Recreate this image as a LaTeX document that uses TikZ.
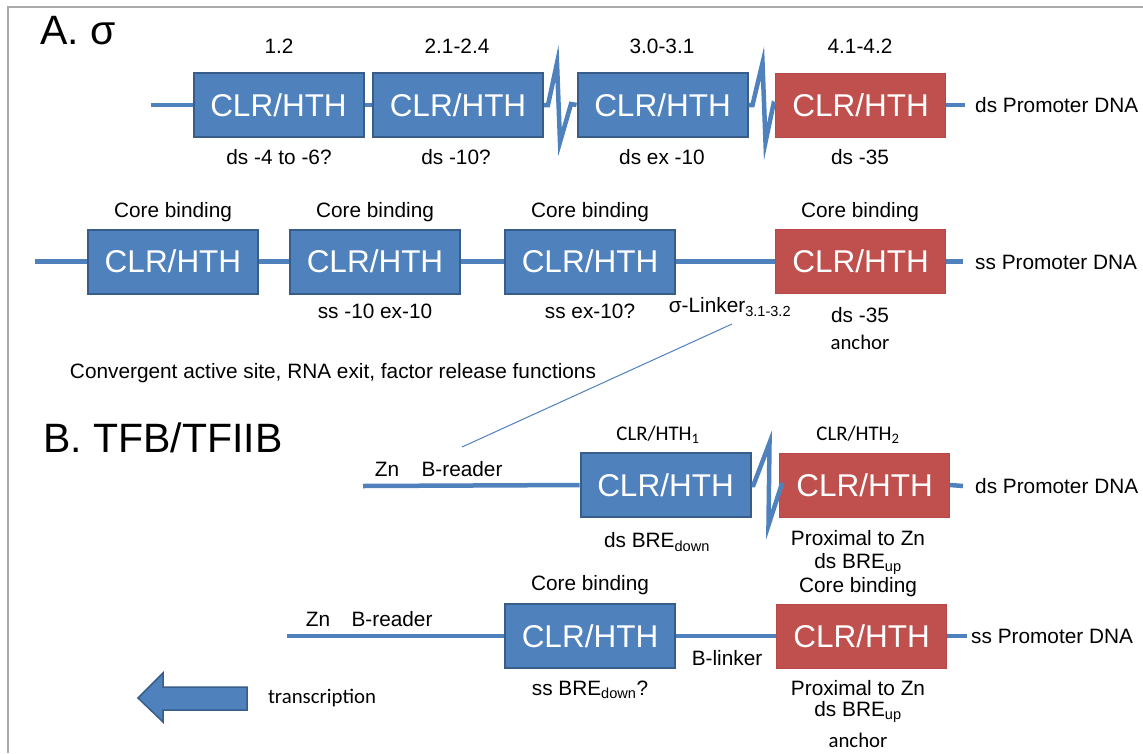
\documentclass[tikz,border=0pt]{standalone}
\usepackage{fontspec}
\setmainfont{Liberation Sans}
\newfontfamily\calfont{Carlito}
\definecolor{bfill}{HTML}{4F81BD}
\definecolor{bdraw}{HTML}{385D8A}
\definecolor{rfill}{HTML}{C0504D}
\definecolor{rdraw}{HTML}{B9474A}
\definecolor{frame}{HTML}{AAAAAA}
\tikzset{
  dom/.style={minimum width=170pt, minimum height=64pt, inner sep=0pt, text=white,
     font=\fontsize{31.5}{32}\selectfont},
  bdom/.style={dom, fill=bfill, draw=bdraw, line width=2pt},
  rdom/.style={dom, fill=rfill, draw=rdraw, line width=1pt},
  chain/.style={draw=bfill, line width=4.5pt},
  lbl/.style={inner sep=0pt, font=\fontsize{20.8}{23}\selectfont},
  clbl/.style={inner sep=0pt, font=\calfont\fontsize{20.8}{23}\selectfont},
  ttl/.style={inner sep=0pt, anchor=west, font=\fontsize{41}{44}\selectfont},
  thin/.style={draw=bfill, line width=1pt},
}
\begin{document}
\begin{tikzpicture}[x=1pt,y=-1pt]
\useasboundingbox (0,0) rectangle (1143,753);
\fill[white] (0,0) rectangle (1143,753);
\draw[frame, line width=2pt] (8,753) -- (8,7) -- (1143,7);

% Titles
\node[ttl] (tA) at (40,31) {A. σ};
\node[ttl] (tB) at (43,438) {B. TFB/TFIIB};

% ---------- Row 1: sigma, ds ----------
\node[bdom] (a1) at (278.5,105) {CLR/HTH};
\node[bdom] (a2) at (458,105) {CLR/HTH};
\node[bdom] (a3) at (662.5,105) {CLR/HTH};
\node[rdom] (a4) at (860.5,105) {CLR/HTH};
\coordinate (a0) at (151,105);
\coordinate (a5) at (965,105);
\draw[chain] (a0) -- (a1.west);
\draw[chain] (a1.east) -- (a2.west);
\draw[chain, line join=miter] (a2.east) -- ++(4,0) -- ++(9,-42) -- ++(3,79) -- ++(11,-38) -- (a3.west);
\draw[chain, line join=miter] (a3.east) -- ++(4,0) -- ++(10,-42) -- ++(3,79) -- ++(8,-38) -- (a4.west);
\draw[chain] (a4.east) -- (a5);
\node[lbl, anchor=west] (a6) at (975,105) {ds Promoter DNA};
\node[lbl] (a1t) at (279,46) {1.2};
\node[lbl] (a2t) at (457,46) {2.1-2.4};
\node[lbl] (a3t) at (662,46) {3.0-3.1};
\node[lbl] (a4t) at (860,46) {4.1-4.2};
\node[lbl] (a1b) at (279,157) {ds -4 to -6?};
\node[lbl] (a2b) at (456,157) {ds -10?};
\node[lbl] (a3b) at (662,157) {ds ex -10};
\node[lbl] (a4b) at (860,157) {ds -35};

% ---------- Row 2: sigma, ss ----------
\node[bdom] (s1) at (173,261.5) {CLR/HTH};
\node[bdom] (s2) at (375,261.5) {CLR/HTH};
\node[bdom] (s3) at (590,261.5) {CLR/HTH};
\node[rdom] (s4) at (860.5,261.5) {CLR/HTH};
\coordinate (s0) at (35,261.5);
\coordinate (s5) at (963,261.5);
\draw[chain] (s0) -- (s1.west);
\draw[chain] (s1.east) -- (s2.west);
\draw[chain] (s2.east) -- (s3.west);
\draw[chain] (s3.east) -- (s4.west);
\draw[chain] (s4.east) -- (s5);
\node[lbl, anchor=west] (s6) at (975,262) {ss Promoter DNA};
\node[lbl] (s1t) at (173,212) {Core binding};
\node[lbl] (s2t) at (375,212) {Core binding};
\node[lbl] (s3t) at (590,212) {Core binding};
\node[lbl] (s4t) at (860,212) {Core binding};
\node[lbl] (s2b) at (375,311) {ss -10 ex-10};
\node[lbl] (s3b) at (590,311) {ss ex-10?};
\node[lbl] (lk) at (730,307) {σ-Linker\textsubscript{3.1-3.2}};
\node[lbl] (s4b) at (860,315) {ds -35};
\node[clbl] (s4c) at (860,342) {anchor};
\node[lbl] (conv) at (333,373) {Convergent active site, RNA exit, factor release functions};

% ---------- Row 3: TFB, ds ----------
\node[bdom] (t1) at (665.5,485) {CLR/HTH};
\node[rdom] (t2) at (864.5,485) {CLR/HTH};
\coordinate (t0) at (363,486);
\coordinate (t3) at (963,486);
\draw[chain] (t0) -- (t1.west);
\draw[chain, line join=miter] (t1.east) -- ++(2,0) -- ++(16,-42) -- ++(-1,82) -- ++(13,-40) -- (t2.west);
\draw[chain] (t2.east) -- (t3);
\node[lbl, anchor=west] (t4) at (975,486) {ds Promoter DNA};
\node[lbl] (tzn) at (387,469) {Zn};
\node[lbl] (tbr) at (462,469) {B-reader};
\node[clbl] (t1t) at (658,435) {CLR/HTH\textsubscript{1}};
\node[clbl] (t2t) at (858,435) {CLR/HTH\textsubscript{2}};
\node[lbl] (t1b) at (657,542) {ds BRE\textsubscript{down}};
\node[lbl] (t2b) at (858,538) {Proximal to Zn};
\node[lbl] (t2c) at (858,564) {ds BRE\textsubscript{up}};

% linker line
\coordinate (lk1) at (732,324);
\coordinate (lk2) at (462,447);
\draw[thin] (lk1) -- (lk2);

% ---------- Row 4: TFB, ss ----------
\node[bdom] (u1) at (590,636) {CLR/HTH};
\node[rdom] (u2) at (861.5,636) {CLR/HTH};
\coordinate (u0) at (287,636);
\coordinate (u3) at (967,636);
\draw[chain] (u0) -- (u1.west);
\draw[chain] (u1.east) -- (u2.west);
\draw[chain] (u2.east) -- (u3);
\node[lbl, anchor=west] (u4) at (971,636) {ss Promoter DNA};
\node[lbl] (uzn) at (318,619) {Zn};
\node[lbl] (ubr) at (392,619) {B-reader};
\node[lbl] (u1t) at (590,585) {Core binding};
\node[lbl] (u2t) at (858,587) {Core binding};
\node[lbl] (u1b) at (590,690) {ss BRE\textsubscript{down}?};
\node[lbl] (ulk) at (727,658) {B-linker};
\node[lbl] (u2b) at (858,688) {Proximal to Zn};
\node[lbl] (u2c) at (858,712) {ds BRE\textsubscript{up}};
\node[clbl] (u2d) at (858,740) {anchor};

% transcription arrow
\filldraw[fill=bfill, draw=bdraw, line width=1.5pt, line join=miter]
  (138,698) -- (163,673) -- (163,687) -- (247,687) -- (247,710) -- (163,710) -- (163,722) -- cycle;
\node[clbl] (tr) at (322,698) {transcription};
\end{tikzpicture}
\end{document}
